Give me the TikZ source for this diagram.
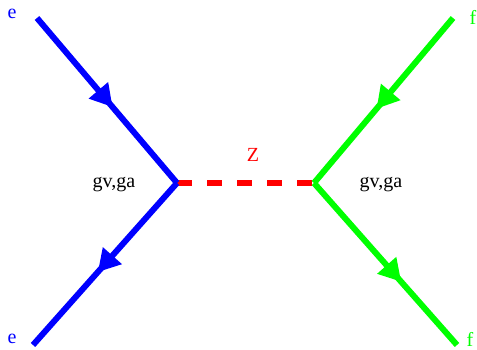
\documentclass[tikz,border=0pt]{standalone}
\usepackage{fontspec}
\setmainfont{Liberation Serif}
\usetikzlibrary{arrows.meta,decorations.markings}
\begin{document}
\begin{tikzpicture}[x=1pt,y=-1pt,
  fermion/.style={line width=6pt,
    postaction={decorate,decoration={markings,
      mark=at position #1 with {\arrow{Triangle[length=22pt,width=24pt]}}}}},
  fermion/.default=0.6,
  boson/.style={line width=6pt,red,dash pattern=on 15pt off 15pt},
  lab/.style={font=\fontsize{20}{22}\selectfont,inner sep=0pt}]
\useasboundingbox (0,0) rectangle (477,350);
\coordinate (a) at (37,18);
\coordinate (b) at (33,345);
\coordinate (c) at (453,18);
\coordinate (d) at (457,345);
\coordinate (v1) at (177,183);
\coordinate (v2) at (314,183);
\draw[boson] (v1) -- (v2);
\draw[blue,fermion=0.54] (a) -- (v1);
\draw[blue,fermion=0.55] (v1) -- (b);
\draw[green,fermion=0.55] (c) -- (v2);
\draw[green,fermion=0.61] (v2) -- (d);
\node[lab,blue] (le1) at (12,14) {e};
\node[lab,blue] (le2) at (12,339) {e};
\node[lab,green] (lf1) at (473,17) {f};
\node[lab,green] (lf2) at (470,339) {f};
\node[lab,red] (lz) at (253,155) {Z};
\node[lab] (g1) at (114,185) {gv,ga};
\node[lab] (g2) at (381,185) {gv,ga};
\end{tikzpicture}
\end{document}
